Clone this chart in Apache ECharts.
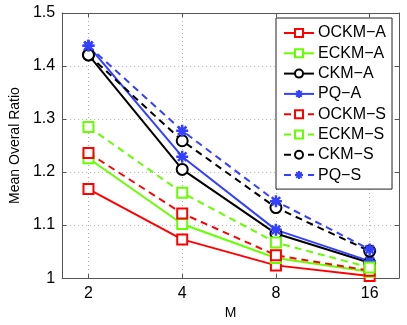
<!doctype html>
<html>
<head>
    <meta charset="utf-8">
    <title>Mean Overal Ratio</title>
    <script src="https://cdn.jsdelivr.net/npm/echarts@6/dist/echarts.min.js"></script>
    <style>
        html, body { margin: 0; padding: 0; background: #fff; }
        #main { width: 407px; height: 325px; }
    </style>
</head>
<body>
    <div id="main"></div>
<script type="text/javascript">
    // M values (x axis, log2 spaced)
    var mValues = [2, 4, 8, 16];

    // series values
    var ockmA = [1.168, 1.073, 1.024, 1.004];
    var eckmA = [1.226, 1.102, 1.038, 1.012];
    var ckmA  = [1.421, 1.205, 1.084, 1.029];
    var pqA   = [1.438, 1.229, 1.091, 1.032];
    var ockmS = [1.236, 1.122, 1.043, 1.014];
    var eckmS = [1.285, 1.161, 1.067, 1.020];
    var ckmS  = [1.421, 1.259, 1.133, 1.051];
    var pqS   = [1.438, 1.278, 1.145, 1.054];

    var names = ['OCKM−A', 'ECKM−A', 'CKM−A', 'PQ−A', 'OCKM−S', 'ECKM−S', 'CKM−S', 'PQ−S'];

    var RED = '#ff0000', GREEN = '#66ff00', BLACK = '#000000', BLUE = '#3340ff';
    var STAR = 'path://M0,-6L0,6M-6,0L6,0M-4.2,-4.2L4.2,4.2M-4.2,4.2L4.2,-4.2';
    var FONT = 'Liberation Sans, Arial, sans-serif';

    var tickPos = mValues.map(function (m) { return Math.log2(m); });

    function pts(arr) {
        return arr.map(function (v, i) { return [Math.log2(mValues[i]), v]; });
    }

    function mk(name, data, color, symbol, size, dashed) {
        var isStar = symbol === STAR;
        return {
            name: name,
            type: 'line',
            data: pts(data),
            symbol: symbol,
            symbolSize: size,
            showSymbol: true,
            lineStyle: { color: color, width: 2, type: dashed ? [7, 5] : 'solid' },
            itemStyle: isStar
                ? { color: color, borderColor: color, borderWidth: 2.5 }
                : { color: color, borderWidth: 2 },
            emphasis: { disabled: true },
            animation: false
        };
    }

    var myChart = echarts.init(document.getElementById('main'));

    var option = {
        backgroundColor: '#fff',
        textStyle: { fontFamily: FONT },
        grid: { left: 54, right: 8, top: 13, bottom: 39 },
        legend: {
            orient: 'vertical',
            left: 276,
            top: 18,
            padding: [7, 6, 6, 7],
            itemWidth: 30,
            itemHeight: 10,
            itemGap: 4.3,
            backgroundColor: '#fff',
            borderColor: '#222',
            borderWidth: 1,
            textStyle: { fontFamily: FONT, fontSize: 16, color: '#000', padding: [0, 0, 0, -1] },
            data: names
        },
        xAxis: [{
            type: 'value',
            min: 0.719,
            max: 4.313,
            name: 'M',
            nameLocation: 'middle',
            nameGap: 27,
            nameTextStyle: { fontFamily: FONT, fontSize: 14, color: '#000' },
            axisLine: { lineStyle: { color: '#555', width: 1 } },
            axisTick: { inside: true, length: 4, customValues: tickPos, lineStyle: { color: '#555' } },
            axisLabel: {
                customValues: tickPos,
                fontFamily: FONT, fontSize: 16, color: '#000', margin: 7,
                formatter: function (v) { return String(Math.round(Math.pow(2, v))); }
            },
            splitLine: { show: true, lineStyle: { color: '#b0b0b0', type: [1, 3] } }
        }, {
            type: 'value',
            position: 'top',
            min: 0.719,
            max: 4.313,
            axisLine: { show: true, onZero: false, lineStyle: { color: '#555', width: 1 } },
            axisTick: { inside: true, length: 4, customValues: tickPos, lineStyle: { color: '#555' } },
            axisLabel: { show: false, customValues: tickPos },
            splitLine: { show: false }
        }],
        yAxis: [{
            type: 'value',
            min: 1,
            max: 1.5,
            interval: 0.1,
            name: 'Mean Overal Ratio',
            nameLocation: 'middle',
            nameGap: 35,
            nameTextStyle: { fontFamily: FONT, fontSize: 14, color: '#000' },
            axisLine: { show: true, lineStyle: { color: '#555', width: 1 } },
            axisTick: { show: true, inside: true, length: 4, lineStyle: { color: '#555' } },
            axisLabel: { fontFamily: FONT, fontSize: 16, color: '#000', margin: 7 },
            splitLine: { show: true, lineStyle: { color: '#b0b0b0', type: [1, 3] } }
        }, {
            type: 'value',
            position: 'right',
            min: 1,
            max: 1.5,
            interval: 0.1,
            axisLine: { show: true, onZero: false, lineStyle: { color: '#555', width: 1 } },
            axisTick: { show: true, inside: true, length: 4, lineStyle: { color: '#555' } },
            axisLabel: { show: false },
            splitLine: { show: false }
        }],
        series: [
            mk(names[0], ockmA, RED, 'emptyRect', 10, false),
            mk(names[1], eckmA, GREEN, 'emptyRect', 10, false),
            mk(names[2], ckmA, BLACK, 'emptyCircle', 11, false),
            mk(names[3], pqA, BLUE, STAR, 12, false),
            mk(names[4], ockmS, RED, 'emptyRect', 10, true),
            mk(names[5], eckmS, GREEN, 'emptyRect', 10, true),
            mk(names[6], ckmS, BLACK, 'emptyCircle', 11, true),
            mk(names[7], pqS, BLUE, STAR, 12, true)
        ]
    };

    myChart.setOption(option);
</script>
</body>
</html>
